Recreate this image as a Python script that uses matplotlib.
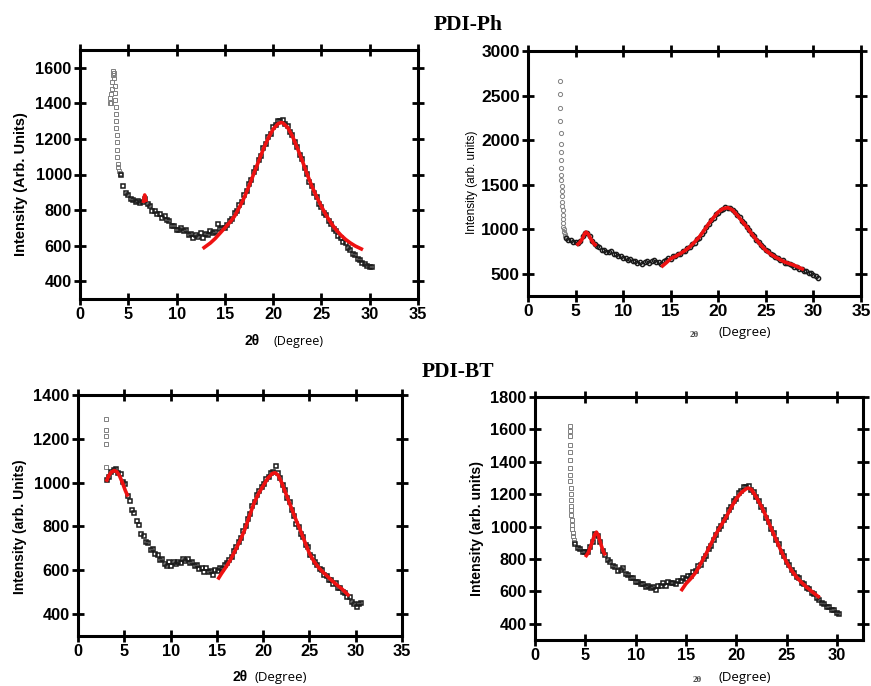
import numpy as np
import matplotlib
matplotlib.use("Agg")
import matplotlib.pyplot as plt

plt.rcParams['font.family'] = ['Liberation Sans', 'DejaVu Sans']

W, H = 871, 686

# ---------------- PDI-Ph, film A (squares) ----------------
a_head_x = [3.1, 3.15, 3.2, 3.25, 3.3, 3.35, 3.4, 3.45, 3.5, 3.55, 3.6, 3.62, 3.65, 3.68,
            3.7, 3.72, 3.75, 3.78, 3.8, 3.83, 3.86, 3.9, 3.95, 4.0, 4.1, 4.18]
a_head_y = [1400, 1430, 1400, 1450, 1480, 1520, 1560, 1580, 1570, 1540, 1500, 1460, 1420, 1380,
            1340, 1300, 1260, 1220, 1180, 1140, 1100, 1060, 1040, 1020, 1010, 1005]
a_x0 = 4.25
a_y = [1000, 935, 895, 885, 860, 858, 845, 852, 838, 848, 862, 836, 822, 796, 794, 776,
       776, 758, 768, 742, 740, 712, 710, 686, 688, 698, 682, 686, 660, 668, 642, 660,
       650, 670, 644, 664, 658, 680, 672, 676, 722, 694, 698, 700, 718, 738, 748, 782,
       796, 826, 846, 884, 906, 944, 970, 1016, 1036, 1080, 1104, 1150, 1170, 1210, 1230,
       1265, 1276, 1300, 1302, 1304, 1286, 1274, 1240, 1220, 1180, 1155, 1110, 1085, 1035,
       1005, 960, 935, 895, 875, 835, 820, 784, 774, 740, 724, 695, 684, 655, 645, 620,
       614, 586, 574, 555, 550, 524, 518, 500, 498, 486, 482, 478]
a_fit1_x = [6.55, 6.7, 6.85]
a_fit1_y = [840, 885, 845]
a_fit2_x = [12.7, 13.5, 14, 14.5, 15, 15.5, 16, 16.5, 17, 17.5, 18, 18.5, 19, 19.5, 20,
            20.5, 20.8, 21, 21.5, 22, 22.5, 23, 23.5, 24, 24.5, 25, 25.5, 26, 26.5, 27,
            27.5, 28, 28.5, 29.3]
a_fit2_y = [583, 615, 640, 670, 700, 730, 765, 815, 870, 935, 1005, 1075, 1145, 1205, 1255,
            1285, 1292, 1290, 1265, 1215, 1150, 1080, 1005, 935, 875, 820, 770, 727, 690, 660,
            635, 615, 598, 577]

# ---------------- PDI-Ph, film B (circles) ----------------
b_head_x = [3.35, 3.37, 3.39, 3.4, 3.42, 3.43, 3.45, 3.46, 3.48, 3.5, 3.52, 3.54, 3.56,
            3.58, 3.6, 3.62, 3.64, 3.66, 3.68, 3.7, 3.73, 3.76, 3.8, 3.85, 3.9, 3.95]
b_head_y = [2666, 2513, 2355, 2217, 2082, 1954, 1861, 1774, 1692, 1613, 1550, 1490, 1430,
            1370, 1310, 1260, 1210, 1160, 1110, 1070, 1030, 1000, 970, 945, 925, 910]
b_x0 = 4.0
b_y = [905, 880, 876, 855, 852, 846, 872, 918, 958, 956, 924, 866, 838, 806, 795, 764,
       766, 740, 748, 758, 724, 726, 698, 696, 672, 678, 658, 662, 642, 648, 622, 632,
       608, 630, 646, 624, 648, 652, 634, 630, 612, 646, 654, 676, 670, 696, 694, 720,
       724, 752, 754, 786, 796, 830, 846, 886, 906, 950, 980, 1026, 1056, 1100, 1126, 1170,
       1186, 1216, 1226, 1246, 1240, 1240, 1210, 1194, 1156, 1134, 1090, 1064, 1020, 994,
       950, 925, 880, 860, 820, 800, 765, 754, 726, 714, 686, 680, 655, 650, 626, 624,
       606, 600, 580, 580, 556, 554, 536, 528, 506, 504, 486, 474, 452]
b_fit1_x = [5.1, 5.4, 5.7, 5.95, 6.1, 6.3, 6.6, 6.9, 7.2]
b_fit1_y = [818, 845, 890, 950, 968, 950, 890, 840, 811]
b_fit2_x = [14, 14.5, 15, 15.5, 16, 16.5, 17, 17.5, 18, 18.5, 19, 19.5, 20, 20.5, 21,
            21.5, 22, 22.5, 23, 23.5, 24, 24.5, 25, 25.5, 26, 26.5, 27, 27.5, 28, 28.5, 29]
b_fit2_y = [575, 620, 669, 695, 725, 760, 800, 855, 912, 985, 1062, 1130, 1193, 1230, 1242,
            1215, 1156, 1090, 1025, 950, 882, 820, 762, 720, 687, 658, 631, 612, 594, 570, 545]

# ---------------- PDI-BT, film A (squares) ----------------
c_head_x = [3.0, 3.0, 3.02, 3.02, 3.05]
c_head_y = [1290, 1240, 1213, 1176, 1073]
c_x0 = 3.1
c_y = [1012, 1026, 1050, 1056, 1064, 1046, 1040, 1004, 995, 940, 916, 874, 860, 824, 806,
       764, 756, 728, 726, 694, 696, 672, 670, 648, 650, 628, 620, 636, 618, 636, 628, 636,
       634, 650, 644, 652, 634, 636, 618, 622, 604, 612, 594, 612, 594, 598, 580, 602, 596,
       612, 606, 626, 632, 648, 662, 688, 704, 730, 748, 778, 800, 834, 856, 894, 912, 942,
       962, 982, 996, 1016, 1028, 1044, 1050, 1078, 1044, 1020, 990, 966, 930, 910, 874,
       846, 810, 796, 764, 750, 716, 704, 670, 660, 636, 624, 606, 600, 580, 574, 556, 554,
       536, 540, 520, 520, 500, 498, 480, 478, 456, 448, 432, 444, 452]
c_fit1_x = [3.05, 3.3, 3.6, 3.9, 4.2, 4.5, 4.8, 5.1, 5.4]
c_fit1_y = [1004, 1030, 1048, 1055, 1050, 1030, 1000, 965, 936]
c_fit2_x = [15.1, 15.5, 16, 16.5, 17, 17.5, 18, 18.5, 19, 19.5, 20, 20.5, 21, 21.3, 21.6,
            22, 22.5, 23, 23.5, 24, 24.5, 25, 25.5, 26, 26.5, 27, 27.5, 28, 28.5, 29, 29.3]
c_fit2_y = [558, 585, 616, 650, 692, 735, 784, 845, 905, 950, 985, 1020, 1042, 1045, 1035,
            1000, 945, 890, 835, 784, 730, 677, 640, 612, 590, 570, 550, 532, 515, 495, 482]

# ---------------- PDI-BT, film B (squares) ----------------
d_head_x = [3.45, 3.46, 3.47, 3.48, 3.49, 3.5, 3.5, 3.51, 3.52, 3.53, 3.54, 3.56, 3.58,
            3.6, 3.62, 3.64, 3.67, 3.7, 3.75, 3.8, 3.85, 3.9]
d_head_y = [1620, 1590, 1560, 1505, 1460, 1410, 1360, 1320, 1280, 1240, 1200, 1165, 1130,
            1100, 1070, 1040, 1010, 985, 960, 940, 920, 905]
d_x0 = 4.0
d_y = [895, 866, 864, 846, 842, 843, 872, 908, 952, 942, 904, 850, 824, 796, 784, 755,
       750, 726, 730, 744, 710, 704, 684, 680, 660, 660, 644, 646, 628, 636, 618, 626,
       610, 636, 634, 650, 636, 656, 650, 650, 644, 666, 664, 680, 676, 696, 694, 720,
       726, 756, 766, 800, 820, 860, 880, 920, 946, 985, 1006, 1040, 1060, 1100, 1120, 1156,
       1170, 1206, 1220, 1246, 1246, 1250, 1226, 1214, 1180, 1160, 1120, 1100, 1055, 1030,
       986, 960, 915, 890, 846, 820, 780, 764, 730, 714, 686, 680, 650, 644, 620, 614,
       590, 584, 560, 550, 526, 524, 506, 504, 486, 484, 466, 458]
d_fit1_x = [5.0, 5.3, 5.6, 5.9, 6.1, 6.3, 6.55, 6.8, 7.0]
d_fit1_y = [812, 840, 890, 945, 966, 945, 890, 845, 822]
d_fit2_x = [14.5, 15, 15.5, 16, 16.5, 17, 17.5, 18, 18.5, 19, 19.5, 20, 20.5, 21, 21.2,
            21.5, 22, 22.5, 23, 23.5, 24, 24.5, 25, 25.5, 26, 26.5, 27, 27.5, 28, 28.3]
d_fit2_y = [602, 647, 680, 719, 775, 832, 895, 956, 1008, 1059, 1118, 1172, 1210, 1234, 1238,
            1230, 1182, 1125, 1059, 985, 915, 845, 781, 730, 688, 655, 626, 600, 575, 561]

STEP = 0.25


def box(left, top, right, bottom):
    # pixel box -> figure fraction rect
    return [left / W, 1 - bottom / H, (right - left) / W, (bottom - top) / H]


def style_axes(ax, xlim, ylim, yticks, xticks, size=11.8):
    ax.set_xlim(*xlim)
    ax.set_ylim(*ylim)
    ax.set_xticks(xticks)
    ax.set_yticks(yticks)
    for s in ax.spines.values():
        s.set_linewidth(2.2)
    ax.tick_params(direction='inout', length=8, width=2, top=True, right=True,
                   labelsize=size, pad=2)
    for lab in ax.get_xticklabels() + ax.get_yticklabels():
        lab.set_fontweight('bold')


def draw(ax, hx, hy, x0, y, f1x, f1y, f2x, f2y, marker):
    x = x0 + STEP * np.arange(len(y))
    ax.plot(hx, hy, linestyle='none', marker=marker, ms=3.0, mfc='none',
            mec='#808080', mew=0.7)
    ax.plot(x, y, linestyle='none', marker=marker, ms=3.0, mfc='none',
            mec='#1a1a1a', mew=1.1)
    ax.plot(f1x, f1y, color='#ee1111', lw=2.6, solid_capstyle='butt')
    ax.plot(f2x, f2y, color='#ee1111', lw=2.6, solid_capstyle='butt')


fig = plt.figure(figsize=(W / 100, H / 100), dpi=100)

ax1 = fig.add_axes(box(80, 50, 418, 299))
draw(ax1, a_head_x, a_head_y, a_x0, a_y, a_fit1_x, a_fit1_y, a_fit2_x, a_fit2_y, 's')
style_axes(ax1, (0, 35), (300, 1700), range(400, 1601, 200), range(0, 36, 5))

ax2 = fig.add_axes(box(528, 51, 861, 296))
draw(ax2, b_head_x, b_head_y, b_x0, b_y, b_fit1_x, b_fit1_y, b_fit2_x, b_fit2_y, 'o')
style_axes(ax2, (0, 35), (250, 3000), range(500, 3001, 500), range(0, 36, 5), size=12.5)

ax3 = fig.add_axes(box(78, 395, 402, 636))
draw(ax3, c_head_x, c_head_y, c_x0, c_y, c_fit1_x, c_fit1_y, c_fit2_x, c_fit2_y, 's')
style_axes(ax3, (0, 35), (300, 1400), range(400, 1401, 200), range(0, 36, 5))

ax4 = fig.add_axes(box(535, 397, 863, 640))
draw(ax4, d_head_x, d_head_y, d_x0, d_y, d_fit1_x, d_fit1_y, d_fit2_x, d_fit2_y, 's')
style_axes(ax4, (0, 32.6), (300, 1800), range(400, 1801, 200), range(0, 31, 5))


def ftext(px, py, s, **kw):
    fig.text(px / W, 1 - py / H, s, ha='center', va='center', **kw)


# group titles
ftext(468, 25, 'PDI-Ph', family='Liberation Serif', fontweight='bold', fontsize=15.5)
ftext(458, 372, 'PDI-BT', family='Liberation Serif', fontweight='bold', fontsize=15.5)

# y labels
ftext(21, 184, 'Intensity (Arb. Units)', rotation=90, fontweight='bold', fontsize=10.5)
ftext(472, 182, 'Intensity (arb. units)', rotation=90, fontsize=8.5)
ftext(20, 527, 'Intensity (arb. Units)', rotation=90, fontweight='bold', fontsize=10)
ftext(477, 528, 'Intensity (arb. units)', rotation=90, fontweight='bold', fontsize=10.2)

# x labels
ftext(252, 341, '2θ', fontweight='bold', fontsize=10)
ftext(298, 341, '(Degree)', family='Open Sans', fontsize=9)
ftext(694, 335, '2θ', family='Liberation Serif', fontweight='bold', fontsize=6.5, color='#444444')
ftext(745, 333, '(Degree)', family='Open Sans', fontsize=9.5)
ftext(240, 677, '2θ', fontweight='bold', fontsize=10)
ftext(281, 677, '(Degree)', family='Open Sans', fontsize=9.5)
ftext(697, 680, '2θ', family='Liberation Serif', fontweight='bold', fontsize=6.5, color='#444444')
ftext(745, 677, '(Degree)', family='Open Sans', fontsize=9.5)

fig.savefig('out.png', dpi=100)
